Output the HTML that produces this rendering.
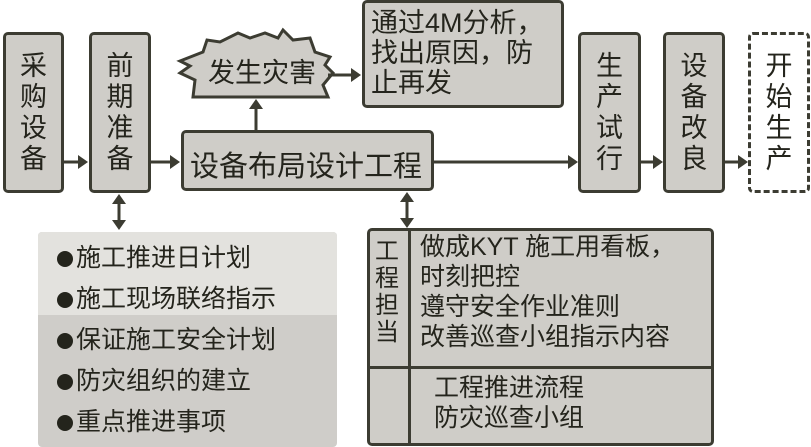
<!DOCTYPE html>
<html><head><meta charset="utf-8"><style>
body{margin:0;width:811px;height:447px;background:#fff;overflow:hidden;position:relative;font-family:"Liberation Sans","Noto Sans CJK SC",sans-serif;color:#24241c}
.b{position:absolute;box-sizing:border-box;border:3px solid #3c3c32;border-radius:5px;background:#cfcdc8}
.v{display:flex;align-items:center;justify-content:center;font-size:27px;line-height:31px;text-align:center}
.t{position:absolute;white-space:nowrap}
.d{display:inline-block;width:16px;height:16px;border-radius:50%;background:#24241c;margin-right:3px;vertical-align:-1px}
</style></head><body>
<div class="b v" style="left:3px;top:32px;width:61px;height:161px">采<br>购<br>设<br>备</div>
<div class="b v" style="left:89px;top:32px;width:62px;height:161px">前<br>期<br>准<br>备</div>
<div class="b" style="left:181px;top:130px;width:253px;height:61px"><div class="t" style="left:6px;top:10px;font-size:29px">设备布局设计工程</div></div>
<div class="b" style="left:362px;top:0px;width:202px;height:108px;font-size:27px;line-height:30px;padding:5px 0 0 6px">通过4M分析，<br>找出原因，防<br>止再发</div>
<div class="b v" style="left:578px;top:32px;width:63px;height:161px">生<br>产<br>试<br>行</div>
<div class="b v" style="left:663px;top:32px;width:62px;height:161px">设<br>备<br>改<br>良</div>
<div class="b v" style="left:748px;top:32px;width:62px;height:161px;border-style:dashed;background:#fff">开<br>始<br>生<br>产</div>
<div style="position:absolute;left:38px;top:232px;width:299px;height:215px;background:#cfcdc9;border-radius:4px"></div>
<div style="position:absolute;left:38px;top:232px;width:299px;height:83px;background:#e3e2de;border-radius:4px 4px 0 0"></div>
<div class="t" style="left:57px;top:238px;font-size:25px;line-height:41px"><span class="d"></span>施工推进日计划<br><span class="d"></span>施工现场联络指示<br><span class="d"></span>保证施工安全计划<br><span class="d"></span>防灾组织的建立<br><span class="d"></span>重点推进事项</div>
<div class="b" style="left:367px;top:228px;width:347px;height:218px"></div>
<div style="position:absolute;left:408px;top:229px;width:3px;height:216px;background:#3c3c32"></div>
<div style="position:absolute;left:368px;top:366px;width:345px;height:3px;background:#3c3c32"></div>
<div class="t" style="left:375px;top:238px;font-size:24px;line-height:27px">工<br>程<br>担<br>当</div>
<div class="t" style="left:420px;top:232px;font-size:25px;line-height:30px">做成KYT 施工用看板，<br>时刻把控<br>遵守安全作业准则<br>改善巡查小组指示内容</div>
<div class="t" style="left:434px;top:373px;font-size:25px;line-height:30px">工程推进流程<br>防灾巡查小组</div>
<svg width="811" height="447" style="position:absolute;left:0;top:0" fill="none" stroke="#3c3c32" stroke-width="3">
<polygon fill="#cfcdc8" points="193,97 195,80 180,73 190,66 180,61 203,52 207,40 220,42 238,33 250,38 265,33 278,38 283,30 293,40 310,38 315,52 330,57 325,65 333,73 323,85 328,97"/>
<text x="262" y="82" font-size="27" fill="#24241c" stroke="none" text-anchor="middle" font-family="Liberation Sans,Noto Sans CJK SC,sans-serif">发生灾害</text>
<g fill="#3c3c32">
<line x1="64" y1="162" x2="82" y2="162"/><polygon stroke="none" points="88,162 78,155 78,169"/>
<line x1="151" y1="162" x2="173" y2="162"/><polygon stroke="none" points="180,162 170,155 170,169"/>
<line x1="434" y1="162" x2="571" y2="162"/><polygon stroke="none" points="578,162 568,155 568,169"/>
<line x1="641" y1="162" x2="656" y2="162"/><polygon stroke="none" points="663,162 653,155 653,169"/>
<line x1="725" y1="162" x2="741" y2="162"/><polygon stroke="none" points="748,162 738,155 738,169"/>
<line x1="328" y1="75" x2="354" y2="75"/><polygon stroke="none" points="361,75 351,68 351,82"/>
<line x1="256" y1="130" x2="256" y2="106"/><polygon stroke="none" points="256,99 249,109 263,109"/>
<line x1="119" y1="200" x2="119" y2="224"/><polygon stroke="none" points="119,194 112,204 126,204"/><polygon stroke="none" points="119,230 112,220 126,220"/>
<line x1="407" y1="198" x2="407" y2="222"/><polygon stroke="none" points="407,192 400,202 414,202"/><polygon stroke="none" points="407,228 400,218 414,218"/>
</g></svg>
</body></html>
